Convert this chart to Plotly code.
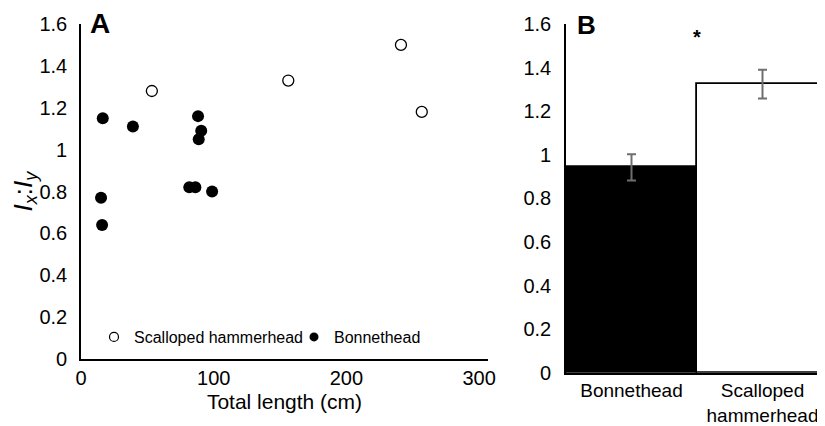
import plotly.graph_objects as go

# Panel A data
scalloped_tl = [53.4, 156.2, 241.1, 256.8]
scalloped_ratio = [1.28, 1.33, 1.50, 1.18]
bonnet_tl = [16.4, 39.1, 88.2, 90.6, 88.7, 81.6, 86.2, 98.8, 15.1, 15.9]
bonnet_ratio = [1.15, 1.11, 1.16, 1.09, 1.05, 0.82, 0.82, 0.80, 0.77, 0.64]

# Panel B data
species = ["Bonnethead", "Scalloped<br>hammerhead"]
mean_ratio = [0.942, 1.324]
se_ratio = [0.060, 0.066]
bar_colors = ["black", "white"]

x_ticks = [0, 100, 200, 300]
y_ticks = [0, 0.2, 0.4, 0.6, 0.8, 1.0, 1.2, 1.4, 1.6]

FONT = "Liberation Sans, Arial, sans-serif"
W, H = 825, 426
OFF = 8  # page body margin in the browser
TICK = 20

fig = go.Figure()

fig.add_trace(go.Scatter(
    x=scalloped_tl, y=scalloped_ratio, mode="markers", name="Scalloped hammerhead",
    marker=dict(symbol="circle", size=11, color="white", line=dict(color="black", width=1.3)),
    showlegend=False, xaxis="x", yaxis="y"))
fig.add_trace(go.Scatter(
    x=bonnet_tl, y=bonnet_ratio, mode="markers", name="Bonnethead",
    marker=dict(symbol="circle", size=12, color="black", line=dict(color="black", width=0)),
    showlegend=False, xaxis="x", yaxis="y"))

# legend entries (smaller symbols)
fig.add_trace(go.Scatter(
    x=[None], y=[None], mode="markers", name="Scalloped hammerhead",
    marker=dict(symbol="circle", size=9, color="white", line=dict(color="black", width=1.2)),
    showlegend=True, xaxis="x", yaxis="y"))
fig.add_trace(go.Scatter(
    x=[None], y=[None], mode="markers", name="Bonnethead",
    marker=dict(symbol="circle", size=9, color="black", line=dict(color="black", width=0)),
    showlegend=True, xaxis="x", yaxis="y"))

fig.add_trace(go.Bar(
    x=species, y=mean_ratio, xaxis="x2", yaxis="y2", showlegend=False,
    marker=dict(color=bar_colors, line=dict(color="black", width=1.8)),
    error_y=dict(type="data", array=se_ratio, visible=True, color="#6f6f6f",
                 thickness=2, width=4.5)))

px_x = lambda p: (p - OFF) / W
px_y = lambda p: 1 - (p - OFF) / H

axis_common = dict(showline=True, linecolor="black", linewidth=1.6, showgrid=False,
                   zeroline=False, ticks="", automargin=False,
                   tickfont=dict(family=FONT, size=TICK, color="black"))

b_right = W + OFF
fig.update_layout(
    width=W, height=H, margin=dict(l=0, r=0, t=0, b=0, autoexpand=False),
    paper_bgcolor="white", plot_bgcolor="white",
    font=dict(family=FONT, color="black"),
    bargap=0,
    xaxis=dict(domain=[px_x(81), px_x(488)], range=[0, 306.7], tickvals=x_ticks,
               ticklabelstandoff=0,
               title=dict(text="Total length (cm)", font=dict(family=FONT, size=21, color="black"),
                          standoff=7),
               anchor="y", **axis_common),
    yaxis=dict(domain=[px_y(359), px_y(24)], range=[0, 1.6], tickvals=y_ticks,
               ticklabelstandoff=8,
               title=dict(text="<i>I</i><sub><i>x</i></sub>:<i>I</i><sub><i>y</i></sub>",
                          font=dict(family=FONT, size=26, color="black"), standoff=6),
               anchor="x", **axis_common),
    xaxis2=dict(domain=[px_x(566), 1.0], range=[-0.5, -0.5 + (b_right - 566) / 131.0],
                type="category", ticklabelstandoff=0, anchor="y2",
                **{**axis_common, "tickfont": dict(family=FONT, size=19, color="black")}),
    yaxis2=dict(domain=[px_y(372.7), px_y(24)], range=[0, 1.6], tickvals=y_ticks,
                ticklabelstandoff=9, anchor="x2", **axis_common),
    legend=dict(orientation="h", x=px_x(113 - 19), y=px_y(337), xanchor="left", yanchor="middle",
                font=dict(family=FONT, size=16, color="black"), bgcolor="rgba(0,0,0,0)",
                itemwidth=30, tracegroupgap=0, entrywidth=155, entrywidthmode="pixels"),
    annotations=[
        dict(text="<b>A</b>", x=px_x(100), y=px_y(24), xref="paper", yref="paper",
             showarrow=False, xanchor="center", yanchor="middle",
             font=dict(family=FONT, size=28, color="black")),
        dict(text="<b>B</b>", x=px_x(586), y=px_y(25), xref="paper", yref="paper",
             showarrow=False, xanchor="center", yanchor="middle",
             font=dict(family=FONT, size=26, color="black")),
        dict(text="<b>*</b>", x=0.5, y=1.54, xref="x2", yref="y2",
             showarrow=False, xanchor="center", yanchor="middle",
             font=dict(family=FONT, size=20, color="black")),
    ],
)

fig.write_html("out.html")
